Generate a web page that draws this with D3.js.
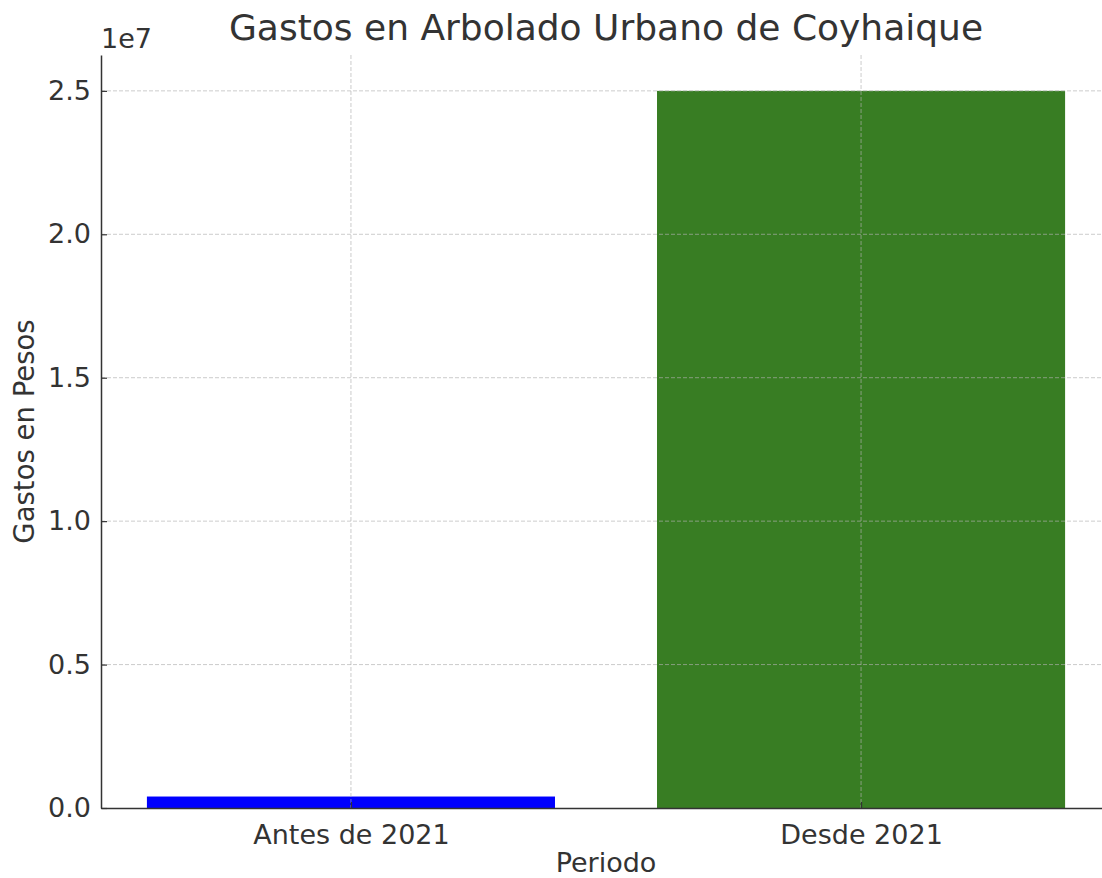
<!DOCTYPE html>
<html>
<head>
<meta charset="utf-8">
<script src="https://cdn.jsdelivr.net/npm/d3@7"></script>
<style>
  body { margin: 0; background: #fff; }
  svg text { font-family: "DejaVu Sans", sans-serif; fill: #333; }
</style>
</head>
<body>
<div id="chart"></div>
<script>
// data
let periods = ['Antes de 2021', 'Desde 2021'];
let gastos = [400000, 25000000];
let barColors = ['#0000ff', '#387d23'];
let yTicks = [0, 5e6, 10e6, 15e6, 20e6, 25e6];

let width = 1102, height = 878;
let plotLeft = 101, plotRight = 1111, plotTop = 55, plotBottom = 808;

let svg = d3.select('#chart').append('svg')
    .attr('width', width)
    .attr('height', height);

let x = d3.scaleLinear()
    .domain([-0.49, periods.length - 1 + 0.49])
    .range([plotLeft, plotRight]);

let y = d3.scaleLinear()
    .domain([0, 2.625e7])
    .range([plotBottom, plotTop]);

// bars
svg.append('g')
    .selectAll('rect')
    .data(gastos)
    .enter().append('rect')
    .attr('x', (d, i) => x(i - 0.4))
    .attr('width', (d, i) => x(i + 0.4) - x(i - 0.4))
    .attr('y', d => y(d))
    .attr('height', d => y(0) - y(d))
    .attr('fill', (d, i) => barColors[i]);

// grid (drawn above bars, like the original)
let grid = svg.append('g')
    .attr('stroke', '#b0b0b0')
    .attr('stroke-opacity', 0.65)
    .attr('stroke-width', 1)
    .attr('stroke-dasharray', '4,2');

grid.selectAll('line.h')
    .data(yTicks.slice(1))
    .enter().append('line')
    .attr('class', 'h')
    .attr('x1', plotLeft).attr('x2', plotRight)
    .attr('y1', d => y(d)).attr('y2', d => y(d));

grid.selectAll('line.v')
    .data(periods)
    .enter().append('line')
    .attr('class', 'v')
    .attr('x1', (d, i) => x(i)).attr('x2', (d, i) => x(i))
    .attr('y1', plotTop).attr('y2', plotBottom);

// axes
let yAxis = d3.axisLeft(y)
    .tickValues(yTicks)
    .tickFormat(d => (d / 1e7).toFixed(1))
    .tickSizeInner(-6)
    .tickSizeOuter(0)
    .tickPadding(10);

let yg = svg.append('g')
    .attr('transform', `translate(${plotLeft},0)`)
    .call(yAxis);
yg.select('.domain').attr('stroke', '#333').attr('stroke-width', 1.5);
yg.selectAll('.tick line').attr('stroke', '#333').attr('stroke-width', 1.2);
yg.selectAll('.tick text')
    .attr('font-size', '27px')
    .attr('font-family', 'DejaVu Sans')
    .attr('fill', '#333');

let xAxis = d3.axisBottom(x)
    .tickValues(d3.range(periods.length))
    .tickFormat(i => periods[i])
    .tickSizeInner(-6)
    .tickSizeOuter(0);

let xg = svg.append('g')
    .attr('transform', `translate(0,${plotBottom})`)
    .call(xAxis);
xg.select('.domain').attr('stroke', '#333').attr('stroke-width', 1.5);
xg.selectAll('.tick line').attr('stroke', '#333').attr('stroke-width', 1.2);
xg.selectAll('.tick text')
    .attr('y', 36)
    .attr('dy', 0)
    .attr('font-size', '27px')
    .attr('font-family', 'DejaVu Sans')
    .attr('fill', '#333');

// offset text
svg.append('text')
    .attr('x', plotLeft)
    .attr('y', 48)
    .attr('font-size', '27px')
    .text('1e7');

// labels
svg.append('text')
    .attr('x', (plotLeft + plotRight) / 2)
    .attr('y', 40)
    .attr('text-anchor', 'middle')
    .attr('font-size', '36px')
    .text('Gastos en Arbolado Urbano de Coyhaique');

svg.append('text')
    .attr('x', (plotLeft + plotRight) / 2)
    .attr('y', 872)
    .attr('text-anchor', 'middle')
    .attr('font-size', '27px')
    .text('Periodo');

svg.append('text')
    .attr('transform', `translate(34,${(plotTop + plotBottom) / 2}) rotate(-90)`)
    .attr('text-anchor', 'middle')
    .attr('font-size', '27.5px')
    .text('Gastos en Pesos');
</script>
</body>
</html>
